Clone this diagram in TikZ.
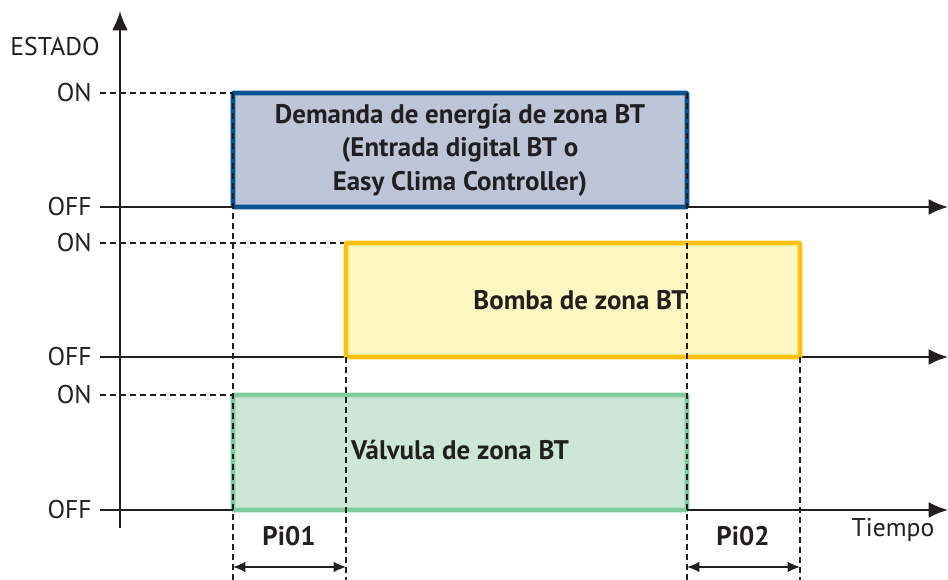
\documentclass[tikz,border=0pt]{standalone}
\usepackage{fontspec}
\setmainfont{PT Sans}
\usetikzlibrary{arrows.meta}

\definecolor{demborde}{RGB}{10,83,150}
\definecolor{demfondo}{RGB}{189,198,216}
\definecolor{bomborde}{RGB}{255,194,14}
\definecolor{bomfondo}{RGB}{255,247,194}
\definecolor{valborde}{RGB}{128,204,156}
\definecolor{valfondo}{RGB}{204,231,213}
\definecolor{tinta}{RGB}{35,31,32}

\tikzset{
  eje/.style = {draw=tinta, line width=1.1pt},
  guia/.style = {draw=tinta, line width=0.8pt, dash pattern=on 3.4pt off 2.3pt},
  caja/.style = {line width=2.8pt, rounded corners=0.6pt},
  lbl/.style = {text=tinta, font=\fontsize{14.6}{16}\selectfont, inner sep=0pt},
  titulo/.style = {text=tinta, font=\fontsize{15.3}{19}\selectfont\bfseries, inner sep=0pt, align=center},
}

\begin{document}
\begin{tikzpicture}[x=0.02cm, y=-0.02cm]
\useasboundingbox (0,0) rectangle (948,580);

%% cajas de estado
\draw[caja, draw=demborde, fill=demfondo] (233,93) rectangle (687,207);
\draw[caja, draw=valborde, fill=valfondo] (233,395) rectangle (687,510);

%% lineas ON
\draw[guia] (100,93) -- (233,93);
\draw[guia] (100,243) -- (346,243);
\draw[guia] (100,395) -- (233,395);

%% ejes de tiempo
\draw[eje] (100,207) -- (233,207);
\draw[eje, -{Latex[length=11pt,width=9pt]}] (687,207) -- (948,207);
\draw[eje] (100,357) -- (346,357);
\draw[eje, -{Latex[length=11pt,width=9pt]}] (800,357) -- (948,357);
\draw[eje] (100,510) -- (233,510);
\draw[eje, -{Latex[length=11pt,width=9pt]}] (687,510) -- (948,510);

%% bomba
\draw[caja, draw=bomborde, fill=bomfondo] (346,243) rectangle (800,357);

%% guias verticales
\draw[guia] (233,93) -- (233,580);
\draw[guia] (687,93) -- (687,580);
\draw[guia] (346,357) -- (346,580);
\draw[guia] (800,357) -- (800,580);

%% eje de estado
\draw[eje, -{Latex[length=11pt,width=9pt]}] (120,528) -- (120,11);

%% textos
\node[lbl, anchor=east] (estado) at (100,47) {ESTADO};
\node[lbl, anchor=east] (on1) at (92,93) {ON};
\node[lbl, anchor=east] (off1) at (92,207) {OFF};
\node[lbl, anchor=east] (on2) at (92,243) {ON};
\node[lbl, anchor=east] (off2) at (92,357) {OFF};
\node[lbl, anchor=east] (on3) at (92,395) {ON};
\node[lbl, anchor=east] (off3) at (92,510) {OFF};
\node[lbl] (tiempo) at (893,530) {Tiempo};

\node[titulo] (demanda) at (460,150) {Demanda de energía de zona BT\\(Entrada digital BT o\\Easy Clima Controller)};
\node[titulo] (bomba) at (580,300) {Bomba de zona BT};
\node[titulo] (valvula) at (460,450) {Válvula de zona BT};

%% tiempos Pi
\coordinate (a1) at (233,567);
\coordinate (b1) at (346,567);
\coordinate (a2) at (687,567);
\coordinate (b2) at (800,567);
\draw[eje, line width=0.9pt, {Latex[length=7pt,width=6pt]}-{Latex[length=7pt,width=6pt]}] (a1) -- (b1);
\draw[eje, line width=0.9pt, {Latex[length=7pt,width=6pt]}-{Latex[length=7pt,width=6pt]}] (a2) -- (b2);
\node[titulo] (pi01) at (289,536) {Pi01};
\node[titulo] (pi02) at (743,536) {Pi02};

\end{tikzpicture}
\end{document}
